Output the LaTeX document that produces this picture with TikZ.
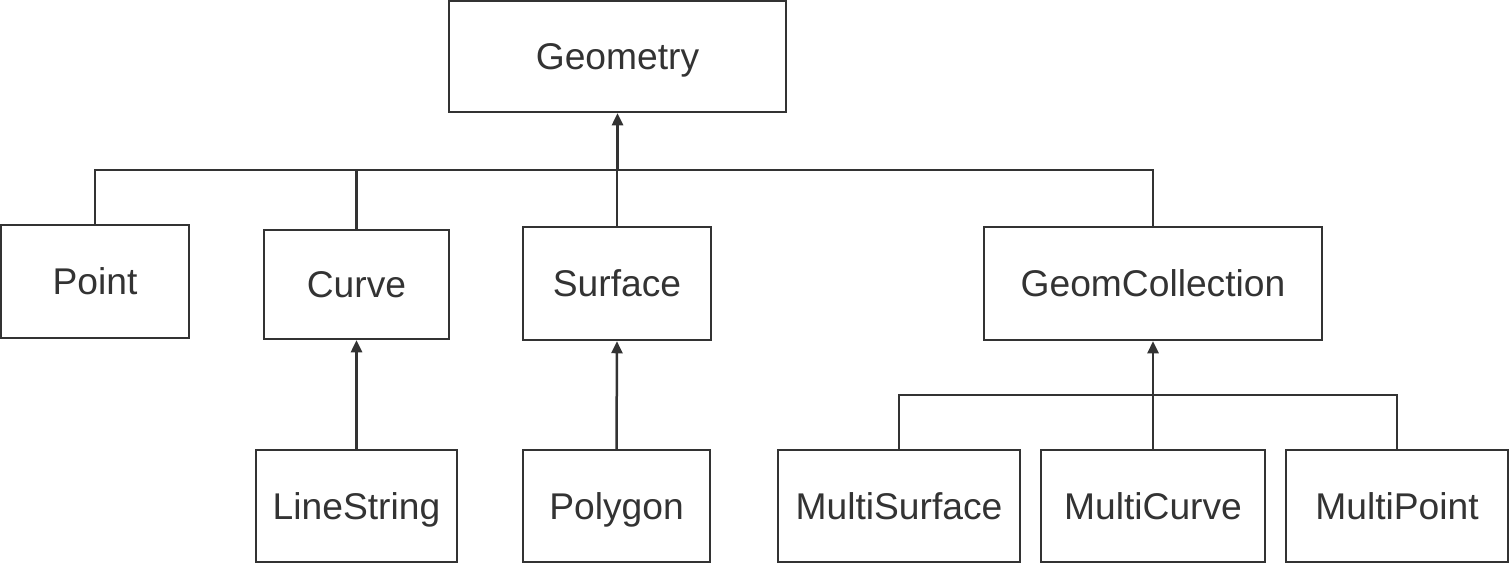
\documentclass[tikz,border=0pt]{standalone}
\usepackage{fontspec}
\setmainfont{Liberation Sans}
\usetikzlibrary{arrows.meta}
\definecolor{ink}{HTML}{333333}
\begin{document}
\begin{tikzpicture}[x=0.5pt,y=-0.5pt,
  box/.style={draw=ink, line width=1.25pt, rectangle, inner sep=0pt, text=ink,
    text height=15.3pt, text depth=2pt,
    font=\fontsize{18.6}{22}\selectfont},
  link/.style={draw=ink, line width=1.25pt},
  arr/.style={link, -{Triangle[width=5.5pt,length=6pt]}}]
\useasboundingbox (0,0) rectangle (1511,564);
\node[box, minimum width=168.5pt, minimum height=55.5pt] (geo) at (617.5,56.5) {Geometry};
\node[box, minimum width=94pt, minimum height=56.5pt] (point) at (95,281.5) {Point};
\node[box, minimum width=92.5pt, minimum height=54.5pt] (curve) at (356.5,284.5) {Curve};
\node[box, minimum width=94pt, minimum height=56.5pt] (surface) at (617,283.5) {Surface};
\node[box, minimum width=169pt, minimum height=56.5pt] (gc) at (1153,283.5) {GeomCollection};
\node[box, minimum width=100.5pt, minimum height=56pt] (ls) at (356.5,506) {LineString};
\node[box, minimum width=93.5pt, minimum height=56pt] (poly) at (616.5,506) {Polygon};
\node[box, minimum width=121pt, minimum height=56pt] (ms) at (899,506) {MultiSurface};
\node[box, minimum width=112pt, minimum height=56pt] (mc) at (1153,506) {MultiCurve};
\node[box, minimum width=111pt, minimum height=56pt] (mp) at (1397,506) {MultiPoint};
\coordinate (b1) at (617.5,170);
\coordinate (b2) at (1153,395);
\draw[link] (point.north) |- (b1);
\draw[link] (curve.north) |- (b1);
\draw[link] (surface.north) |- (b1);
\draw[link] (gc.north) |- (b1);
\draw[arr] (b1) -- (geo.south);
\draw[arr] (ls.north) -- (curve.south);
\draw[arr] (poly.north) -- (surface.south);
\draw[link] (ms.north) |- (b2);
\draw[link] (mp.north) |- (b2);
\draw[arr] (mc.north) -- (gc.south);
\end{tikzpicture}
\end{document}
